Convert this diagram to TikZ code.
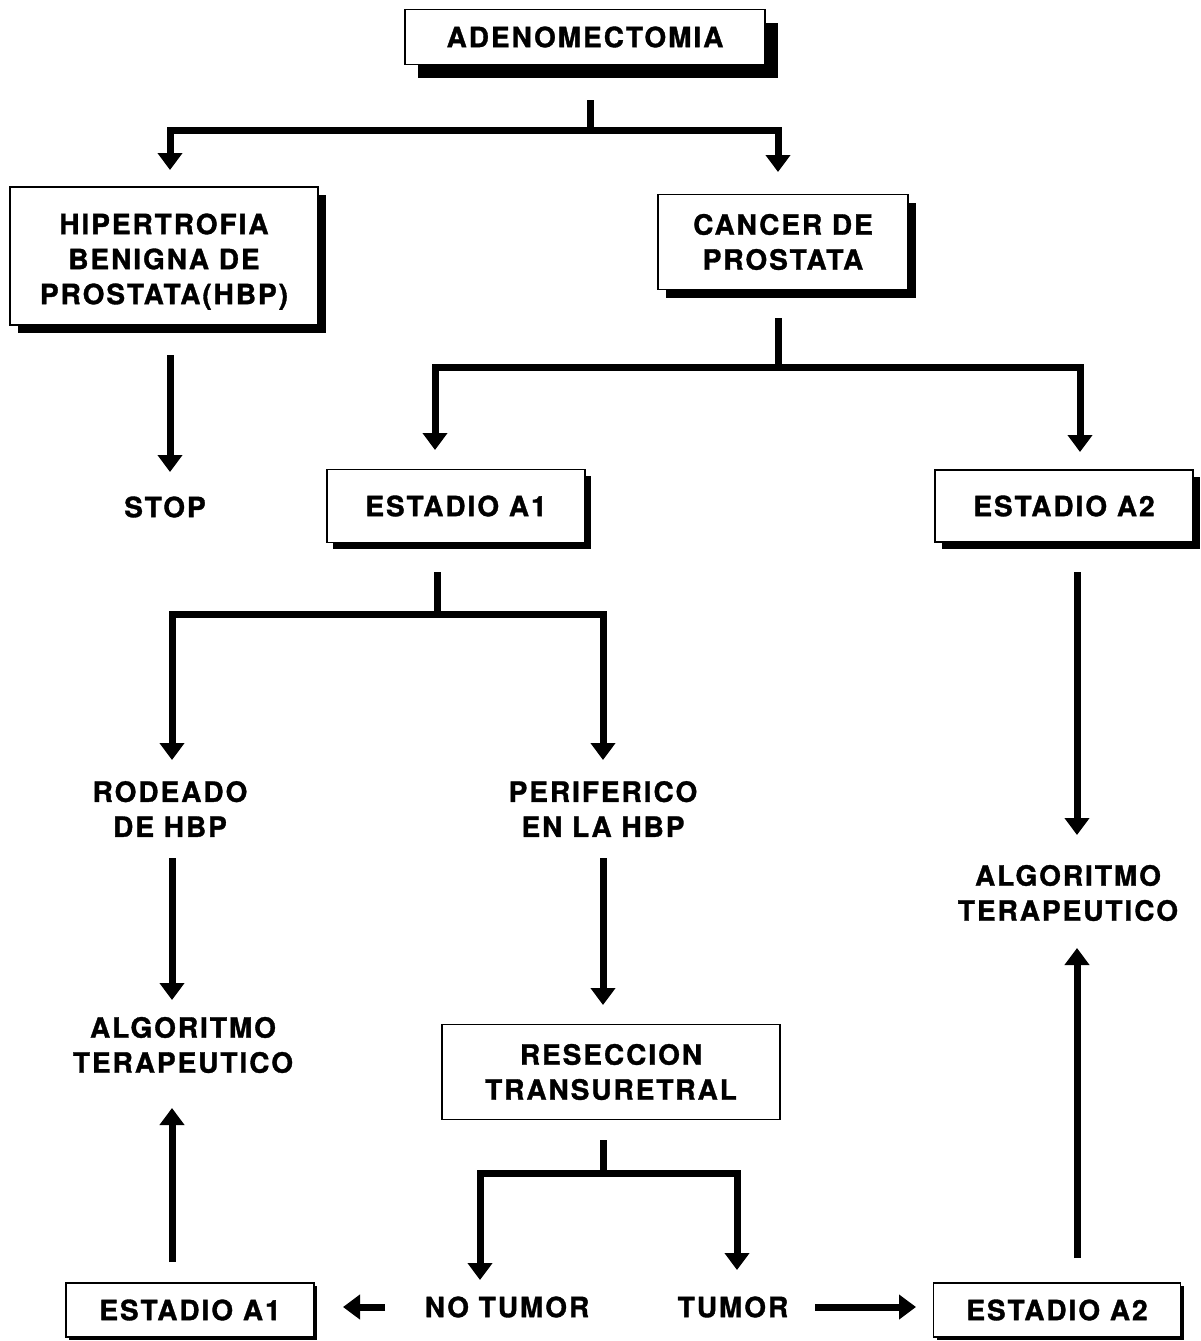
\documentclass[tikz,border=0pt]{standalone}
\usepackage{fontspec}
\setmainfont{TeX Gyre Heros}[LetterSpace=7, BoldFeatures={FakeBold=1.2}]
\usetikzlibrary{arrows.meta,shadows}
\begin{document}
\begin{tikzpicture}[x=1pt,y=-1pt,
  txt/.style={font=\fontsize{28}{35}\selectfont\bfseries, align=center, inner sep=0pt},
  box/.style={txt, draw, line width=1.6pt, fill=white},
  sh/.style={drop shadow={shadow xshift=#1pt, shadow yshift=-#1pt, fill=black, opacity=1}},
  bar/.style={line width=7pt, line join=miter},
  arr/.style={bar, -{Triangle[width=24pt,length=17pt]}}
]
\useasboundingbox (0,0) rectangle (1201,1341);

% boxes
\node[box, sh=13, minimum width=360pt, minimum height=55pt] (adeno) at (585,37) {ADENOMECTOMIA};
\node[box, sh=8, minimum width=308pt, minimum height=138pt] (hbp) at (164,256) {\rule{0pt}{32pt}HIPERTROFIA\\BENIGNA DE\\PROSTATA(HBP)};
\node[box, sh=8, minimum width=250pt, minimum height=95pt] (cancer) at (783,242) {CANCER DE\\PROSTATA};
\node[box, sh=6, minimum width=258pt, minimum height=73pt] (a1) at (456,506) {ESTADIO A1};
\node[box, sh=7, minimum width=258pt, minimum height=72pt] (a2) at (1064,506) {ESTADIO A2};
\node[box, minimum width=338pt, minimum height=95pt] (rtu) at (611,1072) {RESECCION\\TRANSURETRAL};
\node[box, sh=3, minimum width=248pt, minimum height=54pt] (a1b) at (190,1310) {ESTADIO A1};
\node[box, sh=3, minimum width=247pt, minimum height=54pt] (a2b) at (1057,1310) {ESTADIO A2};

% plain labels
\node[txt] (stop) at (165,507) {STOP};
\node[txt] (rod) at (170,809) {RODEADO\\DE HBP};
\node[txt] (per) at (603,809) {PERIFERICO\\EN LA HBP};
\node[txt] (algl) at (183,1045) {ALGORITMO\\TERAPEUTICO};
\node[txt] (algr) at (1068,893) {ALGORITMO\\TERAPEUTICO};
\node[txt] (not) at (507,1307) {NO TUMOR};
\node[txt] (tum) at (733,1307) {TUMOR};

% junction points and arrow ends
\coordinate (s1) at (590,100);   \coordinate (j1) at (590,130);
\coordinate (e1) at (170,170);   \coordinate (e2) at (778,172);
\coordinate (s2) at (778,318);   \coordinate (j2) at (778,367);
\coordinate (e3) at (435,450);   \coordinate (e4) at (1080,452);
\coordinate (s3) at (437,572);   \coordinate (j3) at (437,614);
\coordinate (e5) at (172,760);   \coordinate (e6) at (603,760);
\coordinate (s4) at (603,1140);  \coordinate (j4) at (603,1173);
\coordinate (e7) at (480,1280);  \coordinate (e8) at (737,1270);

% branching connectors
\draw[bar] (s1) -- (j1);
\draw[arr] (j1) -| (e1);
\draw[arr] (j1) -| (e2);
\draw[bar] (s2) -- (j2);
\draw[arr] (j2) -| (e3);
\draw[arr] (j2) -| (e4);
\draw[bar] (s3) -- (j3);
\draw[arr] (j3) -| (e5);
\draw[arr] (j3) -| (e6);
\draw[bar] (s4) -- (j4);
\draw[arr] (j4) -| (e7);
\draw[arr] (j4) -| (e8);

% straight connectors
\draw[arr] (170,355) -- (170,472);
\draw[arr] (172,858) -- (172,1000);
\draw[arr] (603,858) -- (603,1005);
\draw[arr] (172,1262) -- (172,1108);
\draw[arr] (1077,572) -- (1077,835);
\draw[arr] (1077,1258) -- (1077,948);
\draw[arr] (385,1307) -- (343,1307);
\draw[arr] (815,1307) -- (916,1307);
\end{tikzpicture}
\end{document}
